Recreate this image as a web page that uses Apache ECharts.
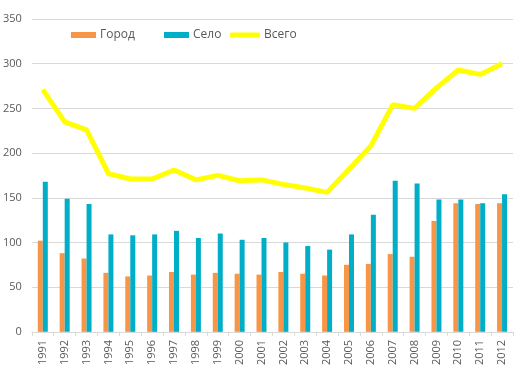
<!DOCTYPE html>
<html><head><meta charset="utf-8">
<script src="https://cdn.jsdelivr.net/npm/echarts@6/dist/echarts.min.js"></script>
<style>html,body{margin:0;padding:0;background:#fff}#c{width:528px;height:368px}</style>
</head><body><div id="c"></div>
<script>
var years = ['1991','1992','1993','1994','1995','1996','1997','1998','1999','2000','2001','2002','2003','2004','2005','2006','2007','2008','2009','2010','2011','2012'];
var gorod = [102, 88, 82, 66, 62, 63, 67, 64, 66, 65, 64, 67, 65, 63, 75, 76, 87, 84, 124, 144, 143, 144];
var selo = [168, 149, 143, 109, 108, 109, 113, 105, 110, 103, 105, 100, 96, 92, 109, 131, 169, 166, 148, 148, 144, 154];
var vsego = [271, 235, 226, 177, 171, 171, 181, 170, 175, 169, 170, 165, 161, 156, 182, 208, 254, 250, 273, 293, 288, 300];
var yTicks = [0, 50, 100, 150, 200, 250, 300, 350];

var chart = echarts.init(document.getElementById('c'), null, {renderer:'canvas'});
var txt = '#595959';
var legText = {color:txt, fontSize:12, fontFamily:'"Open Sans", sans-serif', padding:[0,0,0,-1]};
function leg(name, left, w, h, icon){
  return {top:29, left:left, itemGap:0, itemWidth:w, itemHeight:h, padding:0,
    textStyle:legText, data:[{name:name, icon:icon}]};
}
chart.setOption({
  animation:false,
  textStyle:{fontFamily:'"Open Sans", "DejaVu Sans", sans-serif'},
  grid:{left:31, right:15, top:19, bottom:34, containLabel:false},
  legend:[
    leg('Город', 71, 25, 6, 'rect'),
    leg('Село', 164, 25, 6, 'rect'),
    leg('Всего', 230, 30, 5, 'roundRect')
  ],
  xAxis:{
    type:'category', data:years, boundaryGap:true,
    axisLine:{lineStyle:{color:'#D9D9D9'}},
    axisTick:{show:true, length:4, lineStyle:{color:'#D9D9D9'}},
    axisLabel:{rotate:90, color:txt, fontSize:11, margin:8, interval:0}
  },
  yAxis:{
    type:'value', min:yTicks[0], max:yTicks[yTicks.length-1], interval:50,
    axisLine:{show:false}, axisTick:{show:false},
    splitLine:{lineStyle:{color:'#D9D9D9'}},
    axisLabel:{color:txt, fontSize:11, margin:10}
  },
  series:[
    {name:'Город', type:'bar', data:gorod, barWidth:5, barGap:'0%', itemStyle:{color:'#F79646'}},
    {name:'Село', type:'bar', data:selo, barWidth:5, barGap:'0%', itemStyle:{color:'#00AEC7'}},
    {name:'Всего', type:'line', data:vsego, symbol:'none', lineStyle:{color:'#FFFF00', width:5}, itemStyle:{color:'#FFFF00'}}
  ]
});
</script></body></html>
